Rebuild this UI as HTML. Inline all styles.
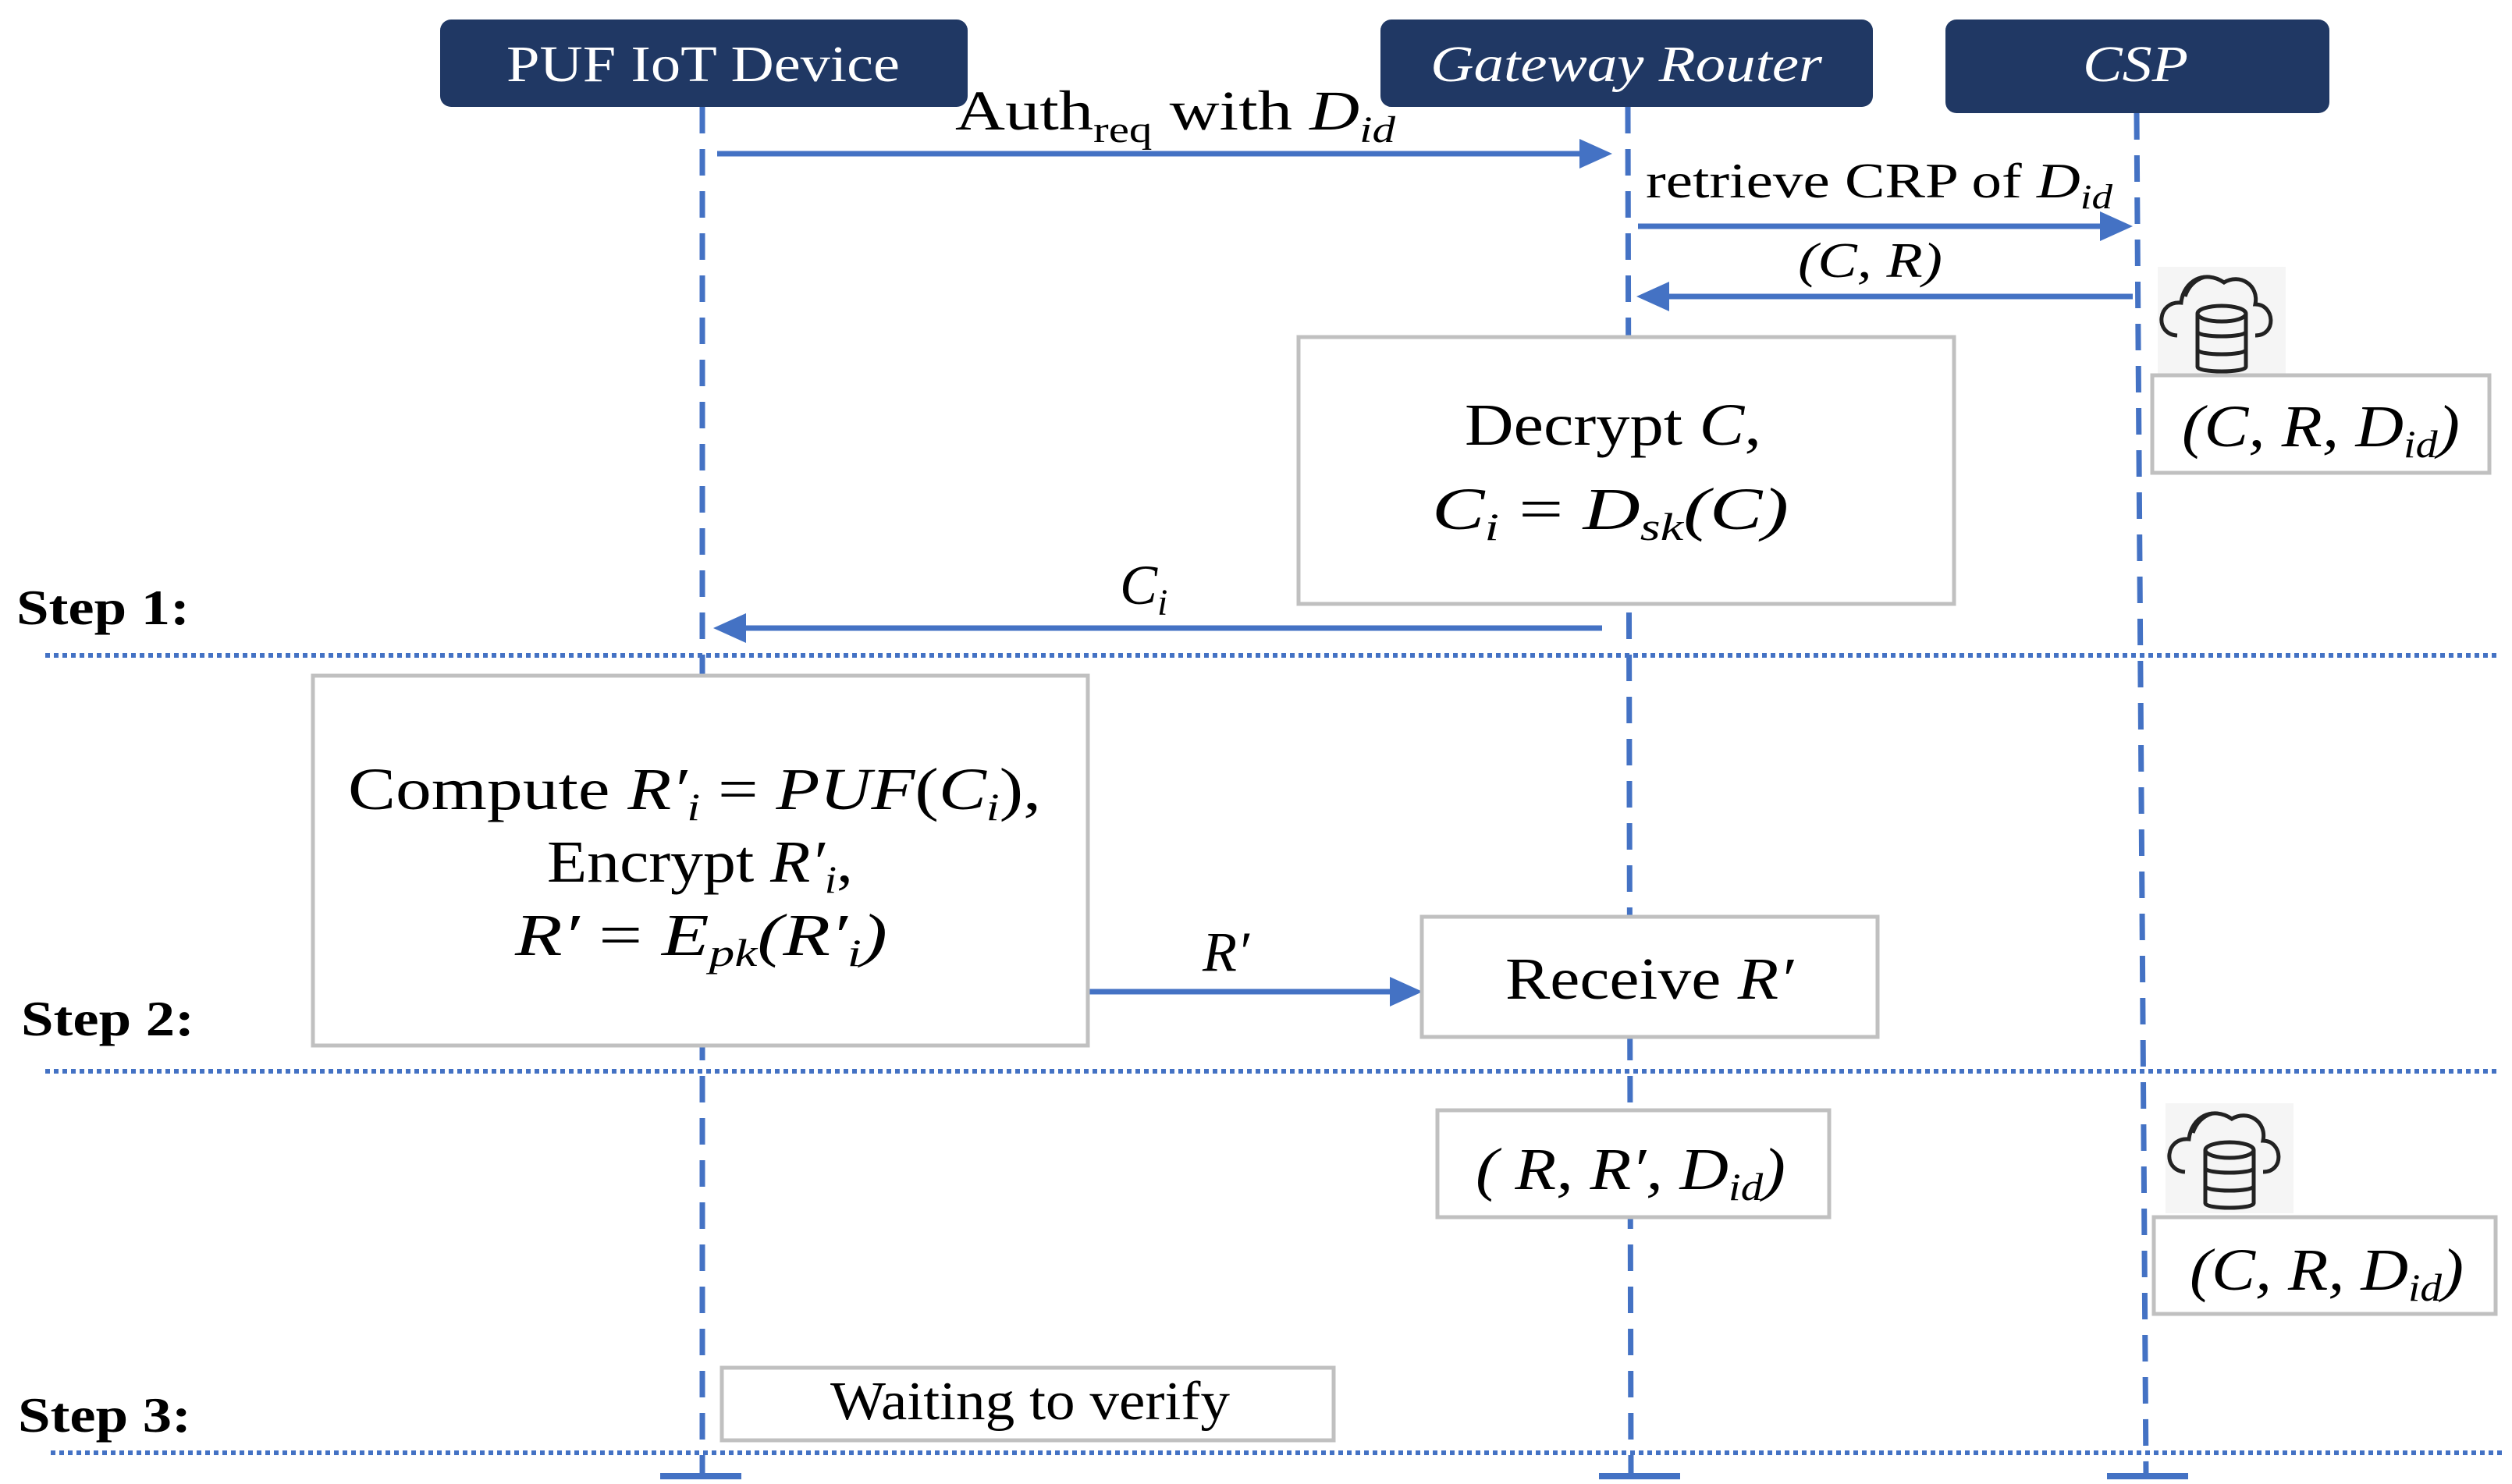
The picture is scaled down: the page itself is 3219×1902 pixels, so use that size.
<!DOCTYPE html>
<html><head><meta charset="utf-8"><style>html,body{margin:0;padding:0;background:#fff}svg{display:block}</style></head><body>
<svg xmlns="http://www.w3.org/2000/svg" width="3219" height="1902" viewBox="0 0 3219 1902">
<g font-family="Liberation Serif, serif" fill="#000">
<!-- lifelines -->
<g stroke="#4472C4" stroke-width="7" stroke-dasharray="34 20" fill="none">
<line x1="900" y1="137" x2="900" y2="1891"/>
<line x1="2086" y1="137" x2="2090" y2="1891"/>
<line x1="2738" y1="145" x2="2750" y2="1891"/>
</g>
<g stroke="#4472C4" stroke-width="8">
<line x1="846" y1="1892" x2="950" y2="1892"/>
<line x1="2049" y1="1892" x2="2153" y2="1892"/>
<line x1="2700" y1="1892" x2="2804" y2="1892"/>
</g>
<!-- dotted step lines -->
<g stroke="#4472C4" stroke-width="6" stroke-dasharray="6 5">
<line x1="58" y1="840" x2="3204" y2="840"/>
<line x1="58" y1="1373" x2="3204" y2="1373"/>
<line x1="65" y1="1862" x2="3210" y2="1862"/>
</g>
<!-- header boxes -->
<rect x="564" y="25" width="676" height="112" rx="14" fill="#203864"/>
<rect x="1769" y="25" width="631" height="112" rx="14" fill="#203864"/>
<rect x="2493" y="25" width="492" height="120" rx="14" fill="#203864"/>
<text x="649" y="104" font-size="66" fill="#fff" textLength="504" lengthAdjust="spacingAndGlyphs">PUF IoT Device</text>
<text x="1833" y="104" font-size="66" font-style="italic" fill="#fff" textLength="502" lengthAdjust="spacingAndGlyphs">Gateway Router</text>
<text x="2669" y="104" font-size="66" font-style="italic" fill="#fff" textLength="135" lengthAdjust="spacingAndGlyphs">CSP</text>
<!-- arrows -->
<g stroke="#4472C4" stroke-width="7">
<line x1="919" y1="197" x2="2030" y2="197"/>
<line x1="2099" y1="290" x2="2700" y2="290"/>
<line x1="2733" y1="380" x2="2128" y2="380"/>
<line x1="2053" y1="805" x2="950" y2="805"/>
<line x1="1394" y1="1271" x2="1790" y2="1271"/>
</g>
<g fill="#4472C4">
<polygon points="2066,197 2024,178 2024,216"/>
<polygon points="2733,290 2691,271 2691,309"/>
<polygon points="2097,380 2139,361 2139,399"/>
<polygon points="914,805 956,786 956,824"/>
<polygon points="1823,1271 1781,1252 1781,1290"/>
</g>
<!-- arrow labels -->
<text x="1224" y="166" font-size="72" textLength="564" lengthAdjust="spacingAndGlyphs">Auth<tspan font-size="48" dy="16">req</tspan><tspan dy="-16"> with </tspan><tspan font-style="italic">D</tspan><tspan font-style="italic" font-size="48" dy="16">id</tspan></text>
<text x="2109" y="253" font-size="64" textLength="598" lengthAdjust="spacingAndGlyphs">retrieve CRP of <tspan font-style="italic">D</tspan><tspan font-style="italic" font-size="44" dy="14">id</tspan></text>
<text x="2304" y="355" font-size="64" font-style="italic" textLength="185" lengthAdjust="spacingAndGlyphs">(C, R)</text>
<text x="1435" y="774" font-size="72" font-style="italic">C<tspan font-size="48" dy="14">i</tspan></text>
<text x="1541" y="1244" font-size="72" font-style="italic">R′</text>
<!-- decrypt box -->
<rect x="1664" y="432" width="840" height="342" fill="#fff" stroke="#c0c0c0" stroke-width="5"/>
<text x="1877" y="570" font-size="76" textLength="380" lengthAdjust="spacingAndGlyphs">Decrypt <tspan font-style="italic">C</tspan>,</text>
<text x="1835" y="678" font-size="76" font-style="italic" textLength="457" lengthAdjust="spacingAndGlyphs">C<tspan font-size="50" dy="14">i</tspan><tspan dy="-14" font-style="normal">  =  </tspan>D<tspan font-size="50" dy="14">sk</tspan><tspan dy="-14">(C)</tspan></text>
<!-- cloud icons -->
<g>
<rect x="2765" y="342" width="164" height="139" fill="#f5f5f5"/>
<g fill="none" stroke="#222" stroke-width="5">
<path d="M2790,430 C2760,428 2765,385 2795,388 C2798,360 2825,345 2850,362 C2870,350 2895,365 2890,390 C2915,390 2918,430 2890,430"/>
<path d="M2800,380 C2805,365 2815,358 2825,355"/>
<ellipse cx="2847" cy="402" rx="31" ry="10"/>
<path d="M2816,402 V470 C2816,478 2878,478 2878,470 V402"/>
<path d="M2816,425 C2816,433 2878,433 2878,425"/>
<path d="M2816,448 C2816,456 2878,456 2878,448"/>
</g>
</g>
<g>
<rect x="2775" y="1414" width="164" height="141" fill="#f5f5f5"/>
<g fill="none" stroke="#222" stroke-width="5">
<path d="M2800,1502 C2770,1500 2775,1457 2805,1460 C2808,1432 2835,1417 2860,1434 C2880,1422 2905,1437 2900,1462 C2925,1462 2928,1502 2900,1502"/>
<path d="M2810,1452 C2815,1437 2825,1430 2835,1427"/>
<ellipse cx="2857" cy="1474" rx="31" ry="10"/>
<path d="M2826,1474 V1542 C2826,1550 2888,1550 2888,1542 V1474"/>
<path d="M2826,1497 C2826,1505 2888,1505 2888,1497"/>
<path d="M2826,1520 C2826,1528 2888,1528 2888,1520"/>
</g>
</g>
<!-- CSP boxes -->
<rect x="2758" y="481" width="432" height="125" fill="#fff" stroke="#c0c0c0" stroke-width="5"/>
<text x="2796" y="572" font-size="76" font-style="italic" textLength="356" lengthAdjust="spacingAndGlyphs">(C, R, D<tspan font-size="50" dy="14">id</tspan><tspan dy="-14">)</tspan></text>
<rect x="2760" y="1560" width="438" height="124" fill="#fff" stroke="#c0c0c0" stroke-width="5"/>
<text x="2806" y="1653" font-size="76" font-style="italic" textLength="351" lengthAdjust="spacingAndGlyphs">(C, R, D<tspan font-size="50" dy="14">id</tspan><tspan dy="-14">)</tspan></text>
<!-- compute box -->
<rect x="401" y="866" width="993" height="474" fill="#fff" stroke="#c0c0c0" stroke-width="5"/>
<text x="446" y="1037" font-size="76" textLength="888" lengthAdjust="spacingAndGlyphs">Compute <tspan font-style="italic">R′</tspan><tspan font-style="italic" font-size="50" dy="14">i</tspan><tspan dy="-14">  =  </tspan><tspan font-style="italic">PUF</tspan>(<tspan font-style="italic">C</tspan><tspan font-style="italic" font-size="50" dy="14">i</tspan><tspan dy="-14">),</tspan></text>
<text x="701" y="1130" font-size="76" textLength="392" lengthAdjust="spacingAndGlyphs">Encrypt <tspan font-style="italic">R′</tspan><tspan font-style="italic" font-size="50" dy="14">i</tspan><tspan dy="-14">,</tspan></text>
<text x="660" y="1224" font-size="76" font-style="italic" textLength="477" lengthAdjust="spacingAndGlyphs">R′<tspan font-style="normal">  =  </tspan>E<tspan font-size="50" dy="14">pk</tspan><tspan dy="-14">(R′</tspan><tspan font-size="50" dy="14">i</tspan><tspan dy="-14">)</tspan></text>
<!-- receive box -->
<rect x="1822" y="1175" width="584" height="154" fill="#fff" stroke="#c0c0c0" stroke-width="5"/>
<text x="1929" y="1280" font-size="76" textLength="369" lengthAdjust="spacingAndGlyphs">Receive <tspan font-style="italic">R′</tspan></text>
<!-- R,R',Did box -->
<rect x="1842" y="1423" width="502" height="137" fill="#fff" stroke="#c0c0c0" stroke-width="5"/>
<text x="1891" y="1524" font-size="76" font-style="italic" textLength="397" lengthAdjust="spacingAndGlyphs">( R, R′, D<tspan font-size="50" dy="14">id</tspan><tspan dy="-14">)</tspan></text>
<!-- waiting -->
<rect x="925" y="1753" width="784" height="93" fill="#fff" stroke="#c0c0c0" stroke-width="5"/>
<text x="1064" y="1819" font-size="70" textLength="512" lengthAdjust="spacingAndGlyphs">Waiting to verify</text>
<!-- steps -->
<text x="21" y="800" font-size="64" font-weight="bold" textLength="222" lengthAdjust="spacingAndGlyphs">Step 1:</text>
<text x="27" y="1327" font-size="64" font-weight="bold" textLength="222" lengthAdjust="spacingAndGlyphs">Step 2:</text>
<text x="23" y="1835" font-size="64" font-weight="bold" textLength="222" lengthAdjust="spacingAndGlyphs">Step 3:</text>
</g>
</svg>
</body></html>
